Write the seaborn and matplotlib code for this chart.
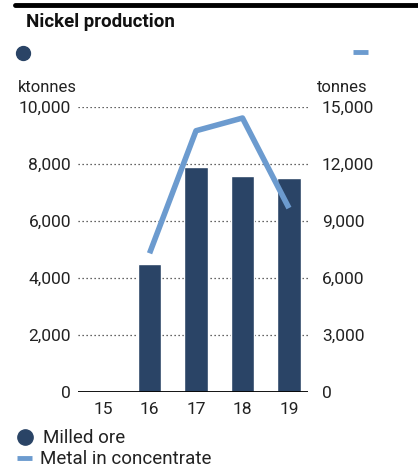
import numpy as np
import pandas as pd
import matplotlib
matplotlib.use("Agg")
import matplotlib.pyplot as plt
from matplotlib.lines import Line2D
import seaborn as sns

years = [15, 16, 17, 18, 19]
year_labels = ["15", "16", "17", "18", "19"]
milled_ore = [np.nan, 4500, 7900, 7580, 7510]          # ktonnes
metal_conc = [np.nan, 7300, 13750, 14420, 9680]        # tonnes
left_ticks = [0, 2000, 4000, 6000, 8000, 10000]
right_ticks = [0, 3000, 6000, 9000, 12000, 15000]

BAR = "#2a4466"
LINE = "#6c9bcf"

sns.set_theme(style="white")
plt.rcParams["font.family"] = ["Roboto", "DejaVu Sans"]

W, H = 418, 468
fig = plt.figure(figsize=(W / 100, H / 100), dpi=100)

def fx(px):
    return px / W

def fy(py):
    return 1 - py / H

ax_l, ax_r, ax_t, ax_b = 78, 308, 107, 392
ax = fig.add_axes([fx(ax_l), fy(ax_b), fx(ax_r - ax_l), (ax_b - ax_t) / H])

df = pd.DataFrame({"year": years, "ore": milled_ore, "metal": metal_conc})

sns.barplot(data=df, x="year", y="ore", native_scale=True, color=BAR,
            width=0.5, saturation=1, ax=ax, zorder=3)
ax.set_xlim(years[0] - 0.54, years[-1] + 0.41)
ax.set_ylim(0, 10000)
ax.set_yticks(left_ticks)
ax.set_yticklabels([f"{v:,}" for v in left_ticks])
ax.set_xticks(years)
ax.set_xticklabels(year_labels)
ax.set_xlabel("")
ax.set_ylabel("")
for v in left_ticks[1:]:
    ax.axhline(v, color="#333333", lw=0.9, ls=(0, (1, 2.2)), zorder=1)
ax.axhline(0, color="black", lw=1.3, zorder=4)
for s in ax.spines.values():
    s.set_visible(False)
ax.tick_params(axis="y", length=0, pad=5, labelsize=12.5, labelcolor="#222222")
ax.tick_params(axis="x", length=0, pad=7, labelsize=12.5, labelcolor="#222222")

ax2 = ax.twinx()
sns.lineplot(data=df, x="year", y="metal", color=LINE, lw=4, ax=ax2,
             zorder=5, solid_capstyle="butt")
ax2.set_ylim(0, 15000)
ax2.set_yticks(right_ticks)
ax2.set_yticklabels([f"{v:,}" for v in right_ticks])
ax2.set_ylabel("")
ax2.set_xlabel("")
for s in ax2.spines.values():
    s.set_visible(False)
ax2.tick_params(axis="y", length=0, pad=10, labelsize=12.5, labelcolor="#222222")
ax2.set_xlim(ax.get_xlim())

# top rule
fig.add_artist(Line2D([fx(15), fx(418)], [fy(5), fy(5)], color="black", lw=3.5,
                      transform=fig.transFigure))
fig.text(fx(26), fy(22), "Nickel production", fontsize=13.5, fontweight="bold",
         va="center", ha="left", color="#111111")

# series markers above axes
fig.add_artist(Line2D([fx(23)], [fy(53)], marker="o", ms=10, color=BAR, lw=0,
                      transform=fig.transFigure))
fig.add_artist(Line2D([fx(353), fx(368)], [fy(52), fy(52)], color=LINE, lw=3.5,
                      transform=fig.transFigure, solid_capstyle="butt"))

fig.text(fx(18), fy(87), "ktonnes", fontsize=12, ha="left", va="center", color="#222222")
fig.text(fx(368), fy(87), "tonnes", fontsize=12, ha="right", va="center", color="#222222")

# legend
fig.add_artist(Line2D([fx(25)], [fy(437)], marker="o", ms=11, color=BAR, lw=0,
                      transform=fig.transFigure))
fig.text(fx(43), fy(438), "Milled ore", fontsize=13.5, ha="left", va="center", color="#222222")
fig.add_artist(Line2D([fx(17), fx(32)], [fy(458), fy(458)], color=LINE, lw=3.5,
                      transform=fig.transFigure, solid_capstyle="butt"))
fig.text(fx(40), fy(459), "Metal in concentrate", fontsize=13.5, ha="left", va="center",
         color="#222222")

fig.savefig("out.png", dpi=100)
